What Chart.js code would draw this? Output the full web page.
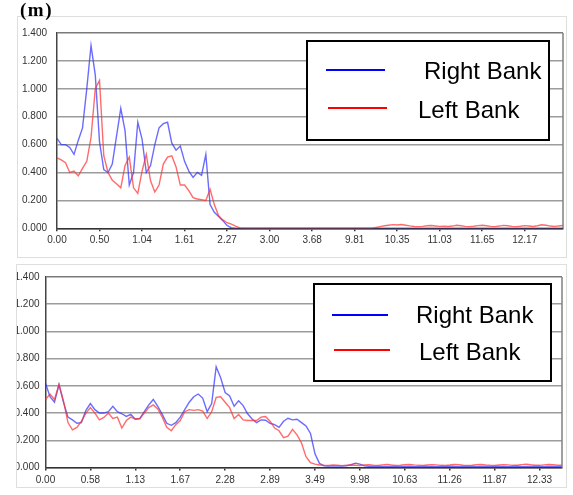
<!DOCTYPE html>
<html><head><meta charset="utf-8">
<script src="https://cdn.jsdelivr.net/npm/chart.js@4.4.1/dist/chart.umd.min.js"></script>
<style>
html,body{margin:0;padding:0;background:#fff;width:573px;height:495px;overflow:hidden}
.box{position:absolute;box-sizing:border-box;border:1px solid #dedede;overflow:hidden;background:#fff}
.box canvas{position:absolute;left:0;top:0}
#unit{position:absolute;left:20px;top:0px;font:bold 19px "Liberation Serif",serif;letter-spacing:1.5px;color:#000;line-height:1}
</style></head><body>
<div class="box" style="left:17px;top:16px;width:550px;height:242px"><canvas id="c1" width="548" height="240"></canvas></div>
<div class="box" style="left:16px;top:264px;width:551px;height:224px"><canvas id="c2" width="549" height="222"></canvas></div>
<div id="unit">(m)</div>
<script>
const pointsPerTick = 10;
const seriesNames = ['Right Bank', 'Left Bank'];
const tickLabelsTop = ['0.00','0.50','1.04','1.61','2.27','3.00','3.68','9.81','10.35','11.03','11.65','12.17'];
const tickLabelsBottom = ['0.00','0.58','1.13','1.67','2.28','2.89','3.49','9.98','10.63','11.26','11.87','12.33'];

const rightBankTop = [
 0.645,0.60,0.60,0.58,0.53,0.63,0.72,1.00,1.31,1.10,
 0.62,0.42,0.40,0.46,0.66,0.86,0.70,0.31,0.40,0.76,
 0.64,0.40,0.45,0.60,0.72,0.75,0.76,0.61,0.56,0.59,
 0.48,0.41,0.365,0.40,0.38,0.53,0.17,0.115,0.085,0.055,
 0.02,0.004,0,0,0,0,0,0,0,0,
 0,0,0,0,0,0,0,0,0,0,
 0,0,0,0,0,0,0,0,0,0,
 0,0,0,0,0,0,0,0,0,0,
 0,0,0,0,0,0,0,0,0,0,
 0,0,0,0,0,0,0,0,0,0,
 0,0,0,0,0,0,0,0,0,0,
 0,0,0,0,0,0,0,0,0,0
];
const leftBankTop = [
 0.505,0.49,0.47,0.40,0.41,0.376,0.43,0.48,0.65,1.00,
 1.06,0.52,0.40,0.345,0.32,0.29,0.45,0.51,0.29,0.25,
 0.41,0.53,0.34,0.26,0.31,0.46,0.51,0.52,0.44,0.31,
 0.31,0.27,0.22,0.21,0.205,0.20,0.28,0.17,0.09,0.06,
 0.04,0.03,0.015,0.003,0,0,0,0,0,0,
 0,0,0,0,0,0,0,0,0,0,
 0,0,0,0,0,0,0,0,0,0,
 0,0,0,0,0,0.006,0.012,0.018,0.022,0.026,
 0.024,0.027,0.022,0.017,0.013,0.012,0.014,0.018,0.02,0.017,
 0.014,0.015,0.013,0.016,0.022,0.018,0.014,0.012,0.015,0.019,
 0.022,0.018,0.014,0.012,0.016,0.021,0.018,0.014,0.012,0.015,
 0.019,0.016,0.013,0.018,0.025,0.022,0.016,0.013,0.017,0.02
];
const rightBankBottom = [
 0.62,0.52,0.48,0.61,0.48,0.37,0.35,0.325,0.33,0.42,
 0.47,0.425,0.40,0.40,0.41,0.45,0.41,0.395,0.375,0.39,
 0.355,0.36,0.41,0.46,0.50,0.45,0.39,0.325,0.31,0.33,
 0.37,0.425,0.48,0.52,0.54,0.51,0.41,0.47,0.74,0.66,
 0.55,0.525,0.45,0.49,0.455,0.395,0.357,0.33,0.35,0.347,
 0.325,0.315,0.295,0.34,0.362,0.35,0.355,0.33,0.305,0.25,
 0.10,0.03,0.012,0.01,0.01,0.01,0.01,0.012,0.02,0.032,
 0.025,0.012,0.008,0.007,0.008,0.007,0.006,0.008,0.007,0.006,
 0.008,0.009,0.007,0.006,0.007,0.008,0.007,0.006,0.007,0.008,
 0.009,0.007,0.006,0.007,0.008,0.007,0.006,0.008,0.007,0.006,
 0.007,0.008,0.007,0.006,0.008,0.009,0.007,0.006,0.007,0.008,
 0.007,0.006,0.008,0.007,0.006,0.007
];
const leftBankBottom = [
 0.50,0.54,0.50,0.61,0.49,0.33,0.277,0.295,0.34,0.40,
 0.44,0.40,0.35,0.368,0.40,0.36,0.37,0.29,0.345,0.37,
 0.357,0.36,0.40,0.44,0.46,0.43,0.37,0.295,0.27,0.315,
 0.345,0.41,0.425,0.42,0.425,0.415,0.36,0.41,0.515,0.52,
 0.48,0.44,0.36,0.39,0.35,0.345,0.345,0.345,0.37,0.375,
 0.34,0.29,0.27,0.22,0.23,0.28,0.24,0.18,0.08,0.035,
 0.025,0.018,0.016,0.015,0.018,0.016,0.014,0.016,0.018,0.017,
 0.015,0.018,0.02,0.017,0.015,0.019,0.022,0.018,0.015,0.017,
 0.02,0.023,0.019,0.016,0.015,0.018,0.021,0.019,0.016,0.015,
 0.018,0.022,0.02,0.017,0.015,0.017,0.02,0.022,0.018,0.016,
 0.015,0.018,0.021,0.019,0.016,0.017,0.021,0.024,0.02,0.017,
 0.016,0.019,0.022,0.02,0.017,0.016
];

const categoriesTop = rightBankTop.map((v, i) => i);
const categoriesBottom = rightBankBottom.map((v, i) => i);

Chart.defaults.font.family = '"Liberation Sans", Arial, sans-serif';
Chart.defaults.color = '#333';

const framePlugin = {
  id: 'frame',
  afterDatasetsDraw(chart, args, o) {
    const {ctx, chartArea: a} = chart;
    ctx.save();
    ctx.strokeStyle = o.color; ctx.lineWidth = o.width;
    ctx.beginPath(); ctx.moveTo(a.right, a.top); ctx.lineTo(a.right, a.bottom); ctx.stroke();
    ctx.restore();
  }
};
const boxLegendPlugin = {
  id: 'boxLegend',
  afterDraw(chart, args, o) {
    const {ctx, chartArea: a} = chart;
    const L = a.right - o.rightGap - o.width, T = a.top + o.topGap;
    ctx.save();
    ctx.fillStyle = '#fff'; ctx.fillRect(L, T, o.width, o.height);
    ctx.lineWidth = 2; ctx.strokeStyle = '#000'; ctx.strokeRect(L, T, o.width, o.height);
    chart.data.datasets.forEach((ds, i) => {
      const r = o.rows[i];
      ctx.strokeStyle = o.colors[i]; ctx.lineWidth = 2;
      ctx.beginPath(); ctx.moveTo(L + r.x1, T + r.y); ctx.lineTo(L + r.x2, T + r.y); ctx.stroke();
      ctx.fillStyle = '#000'; ctx.font = o.font; ctx.textBaseline = 'alphabetic'; ctx.textAlign = 'left';
      ctx.fillText(ds.label, L + r.tx, T + r.ty);
    });
    ctx.restore();
  }
};

function makeChart(id, cats, tickLabels, right, left, g) {
  return new Chart(document.getElementById(id), {
    type: 'line',
    data: {
      labels: cats,
      datasets: [
        {label: seriesNames[0], data: right, borderColor: 'rgba(50,50,255,0.72)', borderWidth: 1.4, pointRadius: 0, tension: 0, order: 1},
        {label: seriesNames[1], data: left, borderColor: 'rgba(255,50,50,0.72)', borderWidth: 1.4, pointRadius: 0, tension: 0, order: 0}
      ]
    },
    options: {
      responsive: false, animation: false, devicePixelRatio: 1,
      layout: {padding: {top: g.padTop, right: 3, left: 0, bottom: 0}},
      plugins: {
        legend: {display: false}, tooltip: {enabled: false},
        frame: {color: '#808080', width: 1.5},
        boxLegend: g.legend
      },
      scales: {
        x: {
          type: 'category', offset: false, z: 1,
          grid: {display: true, drawOnChartArea: false, drawTicks: true, tickLength: 3, lineWidth: 1.5,
                 color: c => (c.index % pointsPerTick === 0 ? '#333' : 'rgba(0,0,0,0)')},
          border: {display: true, color: '#333', width: 1.5},
          ticks: {autoSkip: false, maxRotation: 0, minRotation: 0, padding: g.xPad, color: '#333',
                  font: {size: 10},
                  callback: (v, i) => (i % pointsPerTick === 0 ? (tickLabels[i / pointsPerTick] ?? '') : '')},
          afterFit: s => { s.height = g.xHeight; }
        },
        y: {
          min: 0, max: 1.4,
          afterFit: s => { s.width = g.yWidth; },
          ticks: {stepSize: 0.2, padding: g.yPad, color: '#333', font: {size: 10}, callback: v => Number(v).toFixed(3)},
          grid: {drawTicks: false, lineWidth: 1.5, color: c => (c.tick && c.tick.value > 1.39 ? '#7a7a7a' : '#9c9c9c')},
          border: {display: true, color: '#444', width: 1.5}
        }
      }
    },
    plugins: [framePlugin, boxLegendPlugin]
  });
}

makeChart('c1', categoriesTop, tickLabelsTop, rightBankTop, leftBankTop, {
  padTop: 13, xHeight: 28.7, yWidth: 39, yPad: 10, xPad: 3,
  legend: {rightGap: 14, topGap: 8, width: 242, height: 99, font: '24px "Liberation Sans", Arial, sans-serif',
           colors: ['#0000ff', '#ff0000'],
           rows: [{x1: 19, x2: 78, y: 29, tx: 117, ty: 38}, {x1: 21, x2: 80, y: 67, tx: 111, ty: 77}]}
});
makeChart('c2', categoriesBottom, tickLabelsBottom, rightBankBottom, leftBankBottom, {
  padTop: 9.3, xHeight: 19.5, yWidth: 28.5, yPad: 6, xPad: 4,
  legend: {rightGap: 11, topGap: 7, width: 237, height: 97, font: '24px "Liberation Sans", Arial, sans-serif',
           colors: ['#0000ff', '#ff0000'],
           rows: [{x1: 18, x2: 74, y: 31, tx: 102, ty: 39}, {x1: 20, x2: 76, y: 66, tx: 105, ty: 76}]}
});
</script>
</body></html>
